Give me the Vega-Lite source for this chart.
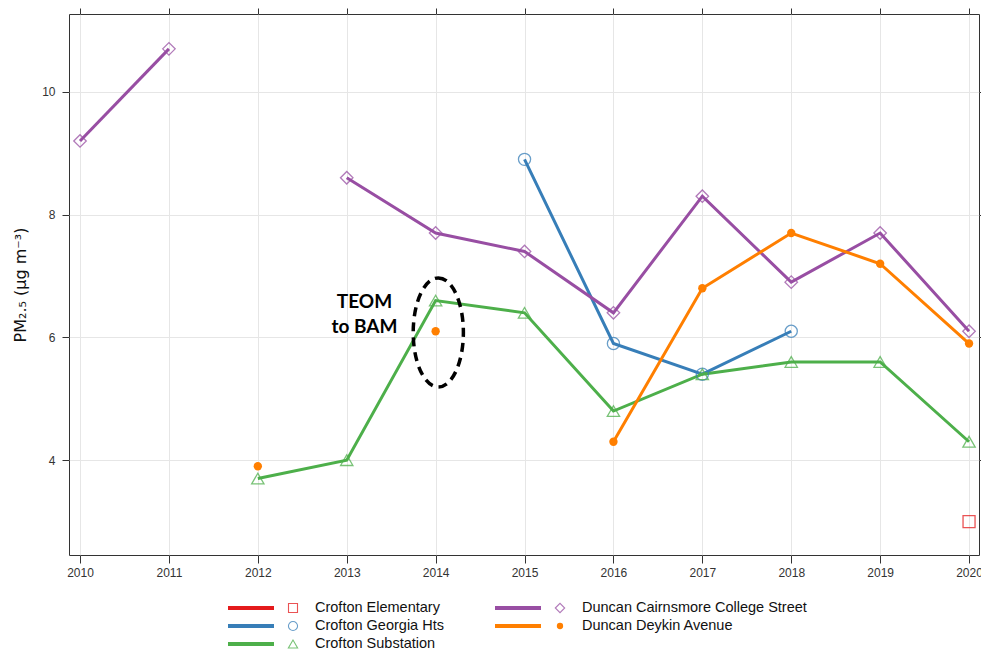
{
  "$schema": "https://vega.github.io/schema/vega-lite/v6.json",
  "background": "white",
  "padding": {"left": 12, "top": 7, "right": 0, "bottom": 0},
  "spacing": 20,
  "config": {
    "font": "Liberation Sans",
    "axis": {"labelFont": "Liberation Sans", "titleFont": "Liberation Sans", "labelColor": "#333", "tickColor": "#333", "domain": false, "gridColor": "#e6e6e6", "labelFontSize": 12},
    "view": {"stroke": "#333", "strokeWidth": 1}
  },
  "resolve": {"scale": {"x": "independent", "y": "independent", "size": "independent", "shape": "independent", "color": "independent"}},
  "datasets": {
    "pm": [
      {"site": "Crofton Elementary", "seg": "E1", "year": 2020, "pm": 3.0},
      {"site": "Crofton Georgia Hts", "seg": "G1", "year": 2015, "pm": 8.9},
      {"site": "Crofton Georgia Hts", "seg": "G1", "year": 2016, "pm": 5.9},
      {"site": "Crofton Georgia Hts", "seg": "G1", "year": 2017, "pm": 5.4},
      {"site": "Crofton Georgia Hts", "seg": "G1", "year": 2018, "pm": 6.1},
      {"site": "Crofton Substation", "seg": "S1", "year": 2012, "pm": 3.7},
      {"site": "Crofton Substation", "seg": "S1", "year": 2013, "pm": 4.0},
      {"site": "Crofton Substation", "seg": "S1", "year": 2014, "pm": 6.6},
      {"site": "Crofton Substation", "seg": "S1", "year": 2015, "pm": 6.4},
      {"site": "Crofton Substation", "seg": "S1", "year": 2016, "pm": 4.8},
      {"site": "Crofton Substation", "seg": "S1", "year": 2017, "pm": 5.4},
      {"site": "Crofton Substation", "seg": "S1", "year": 2018, "pm": 5.6},
      {"site": "Crofton Substation", "seg": "S1", "year": 2019, "pm": 5.6},
      {"site": "Crofton Substation", "seg": "S1", "year": 2020, "pm": 4.3},
      {"site": "Duncan Cairnsmore College Street", "seg": "C1", "year": 2010, "pm": 9.2},
      {"site": "Duncan Cairnsmore College Street", "seg": "C1", "year": 2011, "pm": 10.7},
      {"site": "Duncan Cairnsmore College Street", "seg": "C2", "year": 2013, "pm": 8.6},
      {"site": "Duncan Cairnsmore College Street", "seg": "C2", "year": 2014, "pm": 7.7},
      {"site": "Duncan Cairnsmore College Street", "seg": "C2", "year": 2015, "pm": 7.4},
      {"site": "Duncan Cairnsmore College Street", "seg": "C2", "year": 2016, "pm": 6.4},
      {"site": "Duncan Cairnsmore College Street", "seg": "C2", "year": 2017, "pm": 8.3},
      {"site": "Duncan Cairnsmore College Street", "seg": "C2", "year": 2018, "pm": 6.9},
      {"site": "Duncan Cairnsmore College Street", "seg": "C2", "year": 2019, "pm": 7.7},
      {"site": "Duncan Cairnsmore College Street", "seg": "C2", "year": 2020, "pm": 6.1},
      {"site": "Duncan Deykin Avenue", "seg": "D1", "year": 2012, "pm": 3.9},
      {"site": "Duncan Deykin Avenue", "seg": "D2", "year": 2014, "pm": 6.1},
      {"site": "Duncan Deykin Avenue", "seg": "D3", "year": 2016, "pm": 4.3},
      {"site": "Duncan Deykin Avenue", "seg": "D3", "year": 2017, "pm": 6.8},
      {"site": "Duncan Deykin Avenue", "seg": "D3", "year": 2018, "pm": 7.7},
      {"site": "Duncan Deykin Avenue", "seg": "D3", "year": 2019, "pm": 7.2},
      {"site": "Duncan Deykin Avenue", "seg": "D3", "year": 2020, "pm": 5.9}
    ],
    "legend": [
      {"site": "Crofton Elementary", "col": 0, "row": 0},
      {"site": "Crofton Georgia Hts", "col": 0, "row": 1},
      {"site": "Crofton Substation", "col": 0, "row": 2},
      {"site": "Duncan Cairnsmore College Street", "col": 1, "row": 0},
      {"site": "Duncan Deykin Avenue", "col": 1, "row": 1}
    ],
    "ellipse": [{"year": 2014.03, "pm": 6.08}],
    "note": [{"year": 2013.2, "pm": 6.57, "label": ["TEOM", "to BAM"]}]
  },
  "vconcat": [
    {
      "width": 910,
      "height": 541,
      "resolve": {"axis": {"x": "independent", "y": "independent"}},
      "layer": [
        {
          "data": {"name": "pm"},
          "mark": {"type": "line", "strokeWidth": 3},
          "encoding": {
            "x": {"field": "year", "type": "quantitative", "scale": {"domain": [2009.876, 2020.112], "nice": false, "zero": false},
              "axis": {"values": [2010, 2011, 2012, 2013, 2014, 2015, 2016, 2017, 2018, 2019, 2020], "format": "d", "title": null, "tickSize": 8, "labelPadding": 4, "grid": true, "orient": "bottom"}},
            "y": {"field": "pm", "type": "quantitative", "scale": {"domain": [2.455, 11.268], "nice": false, "zero": false},
              "axis": {"values": [4, 6, 8, 10], "title": "PM₂.₅ (µg m⁻³)", "titleFont": "DejaVu Sans", "titleFontSize": 16, "titleFontWeight": "normal", "titleColor": "#111", "titlePadding": 13, "tickSize": 7, "labelPadding": 7, "grid": true, "orient": "left"}},
            "color": {"field": "site", "type": "nominal", "legend": null,
              "scale": {"domain": ["Crofton Elementary", "Crofton Georgia Hts", "Crofton Substation", "Duncan Cairnsmore College Street", "Duncan Deykin Avenue"], "range": ["#E41A1C", "#377EB8", "#4DAF4A", "#984EA3", "#FF7F00"]}},
            "detail": {"field": "seg"}
          }
        },
        {
          "data": {"name": "pm"},
          "transform": [{"filter": "datum.site !== 'Duncan Deykin Avenue'"}],
          "mark": {"type": "point", "filled": false, "strokeWidth": 1.3, "opacity": 0.75},
          "encoding": {
            "x": {"field": "year", "type": "quantitative",
              "axis": {"values": [2010, 2011, 2012, 2013, 2014, 2015, 2016, 2017, 2018, 2019, 2020], "labels": false, "title": null, "tickSize": 6, "grid": false, "orient": "top"}},
            "y": {"field": "pm", "type": "quantitative",
              "axis": {"values": [4, 6, 8, 10], "labels": false, "title": null, "tickSize": 7, "grid": false, "orient": "right"}},
            "color": {"field": "site", "type": "nominal", "legend": null},
            "shape": {"field": "site", "type": "nominal", "legend": null,
              "scale": {"domain": ["Crofton Elementary", "Crofton Georgia Hts", "Crofton Substation", "Duncan Cairnsmore College Street", "Duncan Deykin Avenue"], "range": ["square", "circle", "triangle-up", "diamond", "circle"]}},
            "size": {"field": "site", "type": "nominal", "legend": null,
              "scale": {"domain": ["Crofton Elementary", "Crofton Georgia Hts", "Crofton Substation", "Duncan Cairnsmore College Street", "Duncan Deykin Avenue"], "range": [144, 160, 256, 256, 70]}}
          }
        },
        {
          "data": {"name": "pm"},
          "transform": [{"filter": "datum.site === 'Duncan Deykin Avenue'"}],
          "mark": {"type": "point", "filled": true, "shape": "circle", "size": 70, "opacity": 1},
          "encoding": {
            "x": {"field": "year", "type": "quantitative", "axis": null},
            "y": {"field": "pm", "type": "quantitative", "axis": null},
            "color": {"field": "site", "type": "nominal", "legend": null}
          }
        },
        {
          "mark": {"type": "rule", "color": "#0000ff", "strokeWidth": 1.5},
          "encoding": {"y": {"datum": 8, "type": "quantitative", "axis": null}}
        },
        {
          "data": {"name": "ellipse"},
          "mark": {"type": "point", "shape": "M0,-1 A0.46,1 0 1,1 0,1 A0.46,1 0 1,1 0,-1 Z", "size": 11900, "filled": false, "stroke": "#000", "strokeWidth": 3.5, "strokeDash": [9, 6], "opacity": 1},
          "encoding": {
            "x": {"field": "year", "type": "quantitative", "axis": null},
            "y": {"field": "pm", "type": "quantitative", "axis": null}
          }
        },
        {
          "data": {"name": "note"},
          "mark": {"type": "text", "font": "Lato", "fontWeight": "bold", "fontSize": 19, "lineHeight": 25, "align": "center", "baseline": "middle", "color": "#000"},
          "encoding": {
            "x": {"field": "year", "type": "quantitative", "axis": null},
            "y": {"field": "pm", "type": "quantitative", "axis": null},
            "text": {"field": "label"}
          }
        }
      ]
    },
    {
      "width": 910,
      "height": 54,
      "view": {"stroke": null},
      "data": {"name": "legend"},
      "encoding": {
        "x": {"field": "col", "type": "quantitative", "scale": {"domain": [0, 1], "range": [224, 491]}, "axis": null},
        "y": {"field": "row", "type": "quantitative", "scale": {"domain": [2.5, -0.5]}, "axis": null}
      },
      "layer": [
        {
          "mark": {"type": "rule", "strokeWidth": 4, "xOffset": -65, "x2Offset": -19},
          "encoding": {
            "x2": {"field": "col"},
            "color": {"field": "site", "type": "nominal", "legend": null,
              "scale": {"domain": ["Crofton Elementary", "Crofton Georgia Hts", "Crofton Substation", "Duncan Cairnsmore College Street", "Duncan Deykin Avenue"], "range": ["#E41A1C", "#377EB8", "#4DAF4A", "#984EA3", "#FF7F00"]}}
          }
        },
        {
          "transform": [{"filter": "datum.site !== 'Duncan Deykin Avenue'"}],
          "mark": {"type": "point", "filled": false, "strokeWidth": 1.1, "opacity": 0.75},
          "encoding": {
            "color": {"field": "site", "type": "nominal", "legend": null},
            "shape": {"field": "site", "type": "nominal", "legend": null,
              "scale": {"domain": ["Crofton Elementary", "Crofton Georgia Hts", "Crofton Substation", "Duncan Cairnsmore College Street", "Duncan Deykin Avenue"], "range": ["square", "circle", "triangle-up", "diamond", "circle"]}},
            "size": {"field": "site", "type": "nominal", "legend": null,
              "scale": {"domain": ["Crofton Elementary", "Crofton Georgia Hts", "Crofton Substation", "Duncan Cairnsmore College Street", "Duncan Deykin Avenue"], "range": [81, 90, 169, 169, 40]}}
          }
        },
        {
          "transform": [{"filter": "datum.site === 'Duncan Deykin Avenue'"}],
          "mark": {"type": "point", "filled": true, "shape": "circle", "size": 40, "opacity": 1},
          "encoding": {
            "color": {"field": "site", "type": "nominal", "legend": null}
          }
        },
        {
          "mark": {"type": "text", "align": "left", "baseline": "middle", "dx": 22, "fontSize": 14.5, "font": "Liberation Sans", "color": "#111"},
          "encoding": {"text": {"field": "site"}}
        }
      ]
    }
  ]
}
